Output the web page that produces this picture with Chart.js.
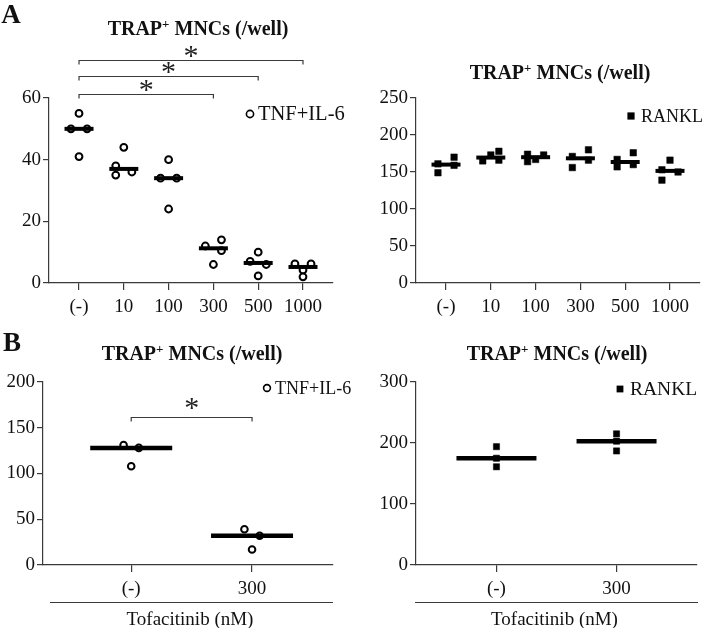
<!DOCTYPE html>
<html><head><meta charset="utf-8">
<script src="https://cdn.jsdelivr.net/npm/chart.js@4.4.1/dist/chart.umd.min.js"></script>
<style>
html,body{margin:0;padding:0;background:#fff;}
#wrap{position:relative;width:709px;height:628px;overflow:hidden;font-family:"Liberation Serif","Times New Roman",serif;color:#111;}
canvas{position:absolute;}
.t{position:absolute;transform:translate(-50%,-50%);white-space:nowrap;line-height:1;font-weight:bold;font-size:20px;}
.t sup{font-size:13px;vertical-align:0;position:relative;top:-7px;}
.L{position:absolute;font-weight:bold;font-size:27px;line-height:1;transform:translate(-50%,-50%);}
</style></head>
<body><div id="wrap">
<canvas id="cA1" width="360" height="330" style="left:0;top:0"></canvas>
<canvas id="cA2" width="364" height="330" style="left:345px;top:0"></canvas>
<canvas id="cB1" width="360" height="298" style="left:0;top:330px"></canvas>
<canvas id="cB2" width="364" height="298" style="left:345px;top:330px"></canvas>
<div class="L" style="left:11px;top:14px">A</div>
<div class="L" style="left:12px;top:342px">B</div>
<div class="t" style="left:198px;top:28px">TRAP<sup>+</sup> MNCs (/well)</div>
<div class="t" style="left:560px;top:72px">TRAP<sup>+</sup> MNCs (/well)</div>
<div class="t" style="left:192px;top:353px">TRAP<sup>+</sup> MNCs (/well)</div>
<div class="t" style="left:557px;top:353px">TRAP<sup>+</sup> MNCs (/well)</div>
</div>
<script>
// ---- data ----
const doseLabels = ['(-)', '10', '100', '300', '500', '1000'];
const tofaLabels = ['(-)', '300'];
const groupTitle = 'Tofacitinib (nM)';

const aTnfValues = [[55, 50, 50, 41], [44, 38, 35, 36], [40, 34, 34, 24], [12, 14, 10.5, 6], [7, 10, 6, 2.3], [6.2, 6.2, 4.2, 2]];
const aRanklValues = [[161, 149, 170, 159], [165, 173, 178, 166], [174, 164, 173, 167], [171, 156, 180, 166], [167, 157, 176, 160], [153, 139, 166, 150]];
const bTnfValues = [[131, 128, 108], [39, 32, 17]];
const bRanklValues = [[194, 175, 161], [215, 203, 187]];

const aTnfTicks = [0, 20, 40, 60];
const aRanklTicks = [0, 50, 100, 150, 200, 250];
const bTnfTicks = [0, 50, 100, 150, 200];
const bRanklTicks = [0, 100, 200, 300];

const aSignificance = [[0, 5], [0, 4], [0, 3]];
const bSignificance = [[0, 1]];

// ---- layout (point scatter sides, pixel placements) ----
const aTnfSide = [[0, -1, 1, 0], [0, -1, -1, 1], [0, -1, 1, 0], [-1, 1, 1, 0], [-1, 0, 1, 0], [-1, 1, 0, 0]];
const aRanklSide = [[-1, -1, 1, 1], [-1, 0, 1, 1], [-1, -1, 1, 0], [-1, -1, 1, 1], [-1, -1, 1, 1], [-1, -1, 0, 1]];
const bTnfSide = [[-1, 1, 0], [-1, 1, 0]];
const bRanklSide = [[0, 0, 0], [0, 0, 0]];

const SERIF = '"Liberation Serif", "Times New Roman", serif';
const AXIS = '#3a3a3a';

function median(a) { const s = [...a].sort((p, q) => p - q); const n = s.length; return n % 2 ? s[(n - 1) / 2] : (s[n / 2 - 1] + s[n / 2]) / 2; }
function pointsOf(values, side, jit) { const out = []; values.forEach((g, i) => g.forEach((v, j) => out.push({ x: i + side[i][j] * jit, y: v }))); return out; }
function mediansOf(values) { return values.map((g, i) => ({ x: i, y: median(g) })); }

const figPlugin = {
  id: 'fig',
  afterDatasetsDraw(chart, args, o) {
    const { ctx, chartArea: ca } = chart;
    const x = chart.scales.x;
    ctx.save();
    // significance brackets
    (o.brackets || []).forEach((b, i) => {
      const x1 = x.getPixelForValue(b[0]), x2 = x.getPixelForValue(b[1]);
      const y = Math.round(ca.top + o.bracketY[i]) + 0.5;
      ctx.strokeStyle = AXIS; ctx.lineWidth = 1.2;
      ctx.beginPath(); ctx.moveTo(x1, y + 4); ctx.lineTo(x1, y); ctx.lineTo(x2, y); ctx.lineTo(x2, y + 4); ctx.stroke();
      ctx.font = '30px ' + SERIF; ctx.fillStyle = '#222'; ctx.textAlign = 'center'; ctx.textBaseline = 'alphabetic';
      const m = ctx.measureText('*');
      const cy = y - o.starGap;
      ctx.fillText('*', (x1 + x2) / 2, cy + (m.actualBoundingBoxAscent - m.actualBoundingBoxDescent) / 2);
    });
    // legend
    const lg = o.legend;
    if (lg) {
      const mx = ca.right + lg.dx, my = ca.top + lg.dy;
      ctx.fillStyle = '#000'; ctx.strokeStyle = '#000';
      if (lg.marker === 'circle') {
        ctx.lineWidth = 1.6; ctx.beginPath(); ctx.arc(mx, my, lg.size, 0, Math.PI * 2); ctx.fillStyle = '#fff'; ctx.fill(); ctx.stroke();
      } else {
        ctx.fillRect(mx - lg.size, my - lg.size, lg.size * 2, lg.size * 2);
      }
      ctx.fillStyle = '#111'; ctx.font = lg.font + 'px ' + SERIF; ctx.textAlign = 'left'; ctx.textBaseline = 'middle';
      ctx.fillText(lg.text, mx + lg.gap, my + 1);
    }
    // group line + label under axis
    if (o.group) {
      const gy = Math.round(ca.bottom + o.group.lineY) + 0.5;
      ctx.strokeStyle = AXIS; ctx.lineWidth = 1.2;
      ctx.beginPath(); ctx.moveTo(ca.left + o.group.l, gy); ctx.lineTo(ca.right + o.group.r, gy); ctx.stroke();
      ctx.fillStyle = '#111'; ctx.font = '19px ' + SERIF; ctx.textAlign = 'center'; ctx.textBaseline = 'middle';
      ctx.fillText(o.group.text, (ca.left + ca.right) / 2 + o.group.dx, ca.bottom + o.group.textY);
    }
    ctx.restore();
  }
};

function makeChart(id, c) {
  return new Chart(document.getElementById(id), {
    type: 'scatter',
    data: {
      datasets: [
        { data: mediansOf(c.values), pointStyle: 'line', pointRadius: c.barHalf, pointHoverRadius: c.barHalf,
          pointBorderWidth: c.barW, pointBorderColor: '#000', pointBackgroundColor: '#000', order: 0 },
        { data: pointsOf(c.values, c.side, c.jit), pointStyle: c.marker, pointRadius: c.r, pointHoverRadius: c.r,
          pointBorderWidth: c.bw, pointBorderColor: '#000', pointBackgroundColor: c.fill, order: 1 }
      ]
    },
    options: {
      responsive: false, animation: false, devicePixelRatio: 1,
      events: [],
      layout: { autoPadding: false, padding: { left: 0, top: c.padTop, right: c.padRight, bottom: 0 } },
      plugins: { legend: { display: false }, tooltip: { enabled: false }, fig: c.fig },
      scales: {
        x: {
          type: 'linear', min: c.xmin, max: c.xmax,
          afterBuildTicks: s => { s.ticks = c.cats.map((_, i) => ({ value: i })); },
          afterFit: s => { s.height = c.xh; },
          ticks: { callback: v => c.cats[v], autoSkip: false, maxRotation: 0, font: { family: SERIF, size: 19 }, color: '#111', padding: 6 },
          grid: { drawOnChartArea: false, drawTicks: true, tickLength: 7, color: AXIS, lineWidth: 1.2 },
          border: { display: true, color: AXIS, width: 1.2 }
        },
        y: {
          min: 0, max: c.ticks[c.ticks.length - 1],
          afterBuildTicks: s => { s.ticks = c.ticks.map(v => ({ value: v })); },
          afterFit: s => { s.width = c.yw; },
          ticks: { font: { family: SERIF, size: 19 }, color: '#111', padding: 2 },
          grid: { drawOnChartArea: false, drawTicks: true, tickLength: 6, color: AXIS, lineWidth: 1.2 },
          border: { display: true, color: AXIS, width: 1.2 }
        }
      }
    },
    plugins: [figPlugin]
  });
}

makeChart('cA1', {
  values: aTnfValues, side: aTnfSide, jit: 0.18, cats: doseLabels, ticks: aTnfTicks,
  marker: 'circle', r: 3.4, bw: 2, fill: '#fff', barHalf: 14.5, barW: 4,
  xmin: -0.67, xmax: 5.67, padTop: 98, padRight: 27, yw: 49, xh: 47,
  fig: { brackets: aSignificance, bracketY: [-38, -22, -4], starGap: 9,
         legend: { marker: 'circle', dx: -83, dy: 16, size: 3.6, gap: 8, text: 'TNF+IL-6', font: 20.5 } }
});
makeChart('cA2', {
  values: aRanklValues, side: aRanklSide, jit: 0.18, cats: doseLabels, ticks: aRanklTicks,
  marker: 'rect', r: 4.6, bw: 0.5, fill: '#000', barHalf: 14.5, barW: 4,
  xmin: -0.67, xmax: 5.67, padTop: 98, padRight: 9, yw: 71, xh: 47,
  fig: { legend: { marker: 'rect', dx: -69, dy: 18, size: 3.6, gap: 10, text: 'RANKL', font: 18 } }
});
makeChart('cB1', {
  values: bTnfValues, side: bTnfSide, jit: 0.063, cats: tofaLabels, ticks: bTnfTicks,
  marker: 'circle', r: 3.3, bw: 2, fill: '#fff', barHalf: 41, barW: 4.5,
  xmin: -0.73, xmax: 1.67, padTop: 52, padRight: 27, yw: 43, xh: 63,
  fig: { brackets: bSignificance, bracketY: [35], starGap: 14,
         legend: { marker: 'circle', dx: -66, dy: 6, size: 3.4, gap: 8, text: 'TNF+IL-6', font: 18 },
         group: { lineY: 37, l: 7, r: 0, textY: 55, dx: 2, text: groupTitle } }
});
makeChart('cB2', {
  values: bRanklValues, side: bRanklSide, jit: 0, cats: tofaLabels, ticks: bRanklTicks,
  marker: 'rect', r: 4.4, bw: 0.5, fill: '#000', barHalf: 40, barW: 4.5,
  xmin: -0.67, xmax: 1.67, padTop: 52, padRight: 12, yw: 71, xh: 63,
  fig: { legend: { marker: 'rect', dx: -77, dy: 7, size: 3.4, gap: 10, text: 'RANKL', font: 19.5 },
         group: { lineY: 37, l: -1, r: 1, textY: 55, dx: -2, text: groupTitle } }
});
</script>
</body></html>
